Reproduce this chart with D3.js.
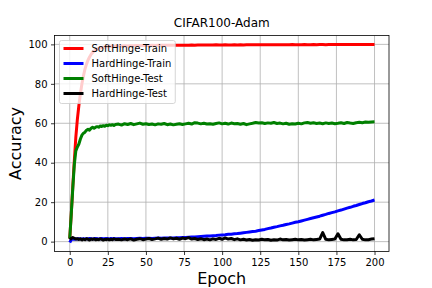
<!DOCTYPE html>
<html>
<head>
<meta charset="utf-8">
<script src="https://cdn.jsdelivr.net/npm/d3@7"></script>
<style>
  body { margin: 0; background: #fff; }
  text { font-family: "DejaVu Sans", sans-serif; }
</style>
</head>
<body>
<svg id="chart" width="432" height="288"></svg>
<script>
// epochs (dense at the start, every 2 after 30)
const epochs = [
  0, 1, 2, 3, 4, 5, 6, 7, 8, 9, 10, 11, 12, 13, 14, 15, 16, 17, 18, 19, 20,
  21, 22, 23, 24, 25, 26, 27, 28, 29, 30,
  32, 34, 36, 38, 40, 42, 44, 46, 48, 50, 52, 54, 56, 58, 60, 62, 64, 66, 68, 70,
  72, 74, 76, 78, 80, 82, 84, 86, 88, 90, 92, 94, 96, 98, 100, 102, 104, 106, 108, 110,
  112, 114, 116, 118, 120, 122, 124, 126, 128, 130, 132, 134, 136, 138, 140, 142, 144, 146, 148, 150,
  152, 154, 156, 158, 160, 162, 164, 166, 168, 170, 172, 174, 176, 178, 180, 182, 184, 186, 188, 190,
  192, 194, 196, 198, 200
];

const softTrain = [
  1.5, 14, 28, 41, 53, 62, 69, 75, 80, 84, 87.5, 90, 92, 93.6, 94.9, 95.9, 96.6, 97.2, 97.6, 97.9, 98.2,
  98.4, 98.6, 98.7, 98.8, 98.9, 99.0, 99.0, 99.1, 99.1, 99.2,
  99.2, 99.2, 99.3, 99.2, 99.3, 99.3, 99.4, 99.3, 99.4, 99.4, 99.4, 99.5, 99.4, 99.5, 99.5, 99.5, 99.5, 99.6, 99.5, 99.6,
  99.6, 99.6, 99.6, 99.6, 99.7, 99.6, 99.7, 99.7, 99.7, 99.7, 99.7, 99.7, 99.8, 99.7, 99.7, 99.8, 99.7, 99.7, 99.8, 99.7,
  99.8, 99.7, 99.8, 99.8, 99.8, 99.8, 99.8, 99.8, 99.8, 99.8, 99.8, 99.8, 99.8, 99.8, 99.8, 99.8, 99.8, 99.9, 99.8, 99.8,
  99.8, 99.9, 99.8, 99.8, 99.9, 99.8, 99.9, 99.9, 99.8, 99.9, 99.9, 99.9, 99.9, 99.9, 99.9, 99.9, 99.9, 99.9, 99.9, 99.9,
  99.9, 99.9, 99.9, 99.9, 99.9
];

const hardTrain = [
  -0.4, 1.0, 1.3, 1.2, 1.4, 1.3, 1.5, 1.4, 1.3, 1.5, 1.4, 1.5, 1.4, 1.6, 1.5, 1.4, 1.5, 1.6, 1.5, 1.4, 1.5,
  1.6, 1.5, 1.5, 1.6, 1.5, 1.4, 1.6, 1.5, 1.6, 1.5,
  1.5, 1.6, 1.5, 1.6, 1.6, 1.5, 1.6, 1.7, 1.6, 1.7, 1.7, 1.6, 1.7, 1.8, 1.7, 1.8, 1.8, 1.9, 1.9, 2.0,
  2.0, 2.1, 2.1, 2.2, 2.3, 2.4, 2.5, 2.6, 2.7, 2.8, 2.9, 3.0, 3.1, 3.3, 3.4, 3.5, 3.7, 3.8, 4.0, 4.1,
  4.3, 4.5, 4.7, 4.9, 5.1, 5.3, 5.6, 5.9, 6.2, 6.6, 6.9, 7.3, 7.6, 8.0, 8.3, 8.7, 9.0, 9.4, 9.8, 10.1,
  10.5, 10.9, 11.3, 11.7, 12.1, 12.5, 12.9, 13.4, 13.8, 14.3, 14.7, 15.1, 15.6, 16.0, 16.5, 17.0, 17.4, 17.9, 18.3, 18.8,
  19.3, 19.7, 20.2, 20.6, 21.1
];

const softTest = [
  1.5, 14, 27, 39, 46, 48, 49.5, 52, 54, 55, 55.5, 56.5, 57, 56.5, 57.5, 58, 57.5, 58, 58.3, 58, 58.6,
  58.4, 58.8, 58.5, 59, 58.8, 59.2, 59, 59.3, 58.9, 59.4,
  59.6, 59.1, 59.8, 59.4, 59.9, 59.3, 59.7, 60.1, 59.5, 59.8, 59.4, 59.6, 59.2, 59.7, 59.5, 59.9, 59.3, 59.6, 59.2, 59.5,
  59.8, 59.4, 59.7, 60.0, 59.6, 60.3, 60.1, 59.7, 60.0, 59.6, 59.8, 59.5, 59.9, 60.2, 59.7, 60.0, 59.6, 60.1, 59.8, 59.9,
  59.5, 59.9, 59.3, 59.7, 60.0, 60.4, 60.1, 60.3, 59.9, 60.2, 60.0, 60.4, 59.9, 60.1, 59.7, 60.0, 59.5, 59.8, 59.6, 60.0,
  59.7, 60.2, 60.4, 60.0, 60.3, 59.9, 60.1, 59.8, 60.2, 59.9, 60.1, 59.8, 60.0, 60.3, 59.9, 60.4, 60.1, 59.9, 60.3, 60.5,
  60.3, 60.6, 60.5, 60.7, 60.8
];

const hardTest = [
  1.0, 1.6, 2.1, 1.7, 1.3, 1.5, 1.1, 1.4, 0.9, 1.3, 1.0, 1.5, 1.2, 0.8, 1.3, 1.1, 1.4, 0.9, 1.2, 1.0, 1.4,
  1.1, 0.8, 1.2, 1.0, 1.3, 0.9, 1.2, 1.0, 1.4, 1.1,
  1.2, 0.9, 1.3, 1.0, 1.4, 0.8, 1.2, 1.5, 1.0, 1.3, 1.6, 1.1, 1.4, 1.8, 1.2, 1.6, 1.3, 1.9, 1.4, 1.7,
  1.2, 1.8, 1.5, 2.0, 1.3, 1.6, 1.1, 1.5, 1.0, 1.3, 0.9, 1.4, 1.1, 1.7, 1.2, 1.9, 1.3, 1.6, 1.0, 1.4,
  0.9, 1.2, 0.8, 1.1, 0.7, 1.0, 0.8, 1.2, 0.9, 1.1, 0.7, 1.0, 0.8, 1.3, 0.9, 1.1, 0.8, 1.0, 1.2, 0.9,
  1.1, 0.8, 1.0, 1.2, 0.9, 1.1, 1.3, 4.6, 1.2, 0.9, 1.1, 1.3, 4.0, 1.2, 0.9, 1.0, 1.2, 0.9, 1.1, 3.5,
  1.2, 0.9, 1.0, 1.3, 1.5
];

const seriesNames = ['SoftHinge-Train', 'HardHinge-Train', 'SoftHinge-Test', 'HardHinge-Test'];
const seriesColors = ['#ff0000', '#0000ff', '#008000', '#000000'];
const xTicks = [0, 25, 50, 75, 100, 125, 150, 175, 200];
const yTicks = [0, 20, 40, 60, 80, 100];

const margin = { left: 54.5, right: 389, top: 35.5, bottom: 251.5 };
const svg = d3.select('#chart');

const x = d3.scaleLinear().domain([-10, 209.5]).range([margin.left, margin.right]);
const y = d3.scaleLinear().domain([-5, 104.5]).range([margin.bottom, margin.top]);

// grid
const grid = svg.append('g');
grid.selectAll('.gx').data(xTicks).enter().append('line')
    .attr('x1', (d) => x(d)).attr('x2', (d) => x(d))
    .attr('y1', margin.top).attr('y2', margin.bottom)
    .attr('stroke', '#b0b0b0').attr('stroke-width', 0.8);
grid.selectAll('.gy').data(yTicks).enter().append('line')
    .attr('y1', (d) => y(d)).attr('y2', (d) => y(d))
    .attr('x1', margin.left).attr('x2', margin.right)
    .attr('stroke', '#b0b0b0').attr('stroke-width', 0.8);

// lines
const allSeries = [softTrain, hardTrain, softTest, hardTest];
const line = d3.line()
    .x((d, i) => x(epochs[i]))
    .y((d) => y(d));

const clip = svg.append('clipPath').attr('id', 'plot-clip')
    .append('rect')
    .attr('x', margin.left).attr('y', margin.top)
    .attr('width', margin.right - margin.left)
    .attr('height', margin.bottom - margin.top);

allSeries.forEach((s, k) => {
    svg.append('path')
        .datum(s)
        .attr('clip-path', 'url(#plot-clip)')
        .attr('fill', 'none')
        .attr('stroke', seriesColors[k])
        .attr('stroke-width', 3)
        .attr('stroke-linejoin', 'round')
        .attr('d', line);
});

// axes
const xAxis = svg.append('g')
    .attr('transform', `translate(0, ${margin.bottom})`)
    .call(d3.axisBottom(x).tickValues(xTicks).tickSize(3.5).tickPadding(3.5).tickSizeOuter(0));
const yAxis = svg.append('g')
    .attr('transform', `translate(${margin.left}, 0)`)
    .call(d3.axisLeft(y).tickValues(yTicks).tickSize(3.5).tickPadding(3.5).tickSizeOuter(0));

[xAxis, yAxis].forEach((a) => {
    a.select('.domain').remove();
    a.selectAll('line').attr('stroke', '#000').attr('stroke-width', 0.8);
    a.selectAll('text')
        .attr('fill', '#000')
        .style('font-size', '10px')
        .style('font-family', '"DejaVu Sans", sans-serif');
});

// frame
svg.append('rect')
    .attr('x', margin.left).attr('y', margin.top)
    .attr('width', margin.right - margin.left)
    .attr('height', margin.bottom - margin.top)
    .attr('fill', 'none')
    .attr('stroke', '#000')
    .attr('stroke-width', 0.8);

// legend
const legend = svg.append('g');
const legendBox = legend.append('rect')
    .attr('x', 59.5).attr('y', 40.5)
    .attr('rx', 2).attr('ry', 2)
    .attr('fill', '#fff').attr('fill-opacity', 0.8)
    .attr('stroke', '#cccccc').attr('stroke-width', 0.8);

let maxW = 0;
seriesNames.forEach((name, k) => {
    const cy = 48.5 + k * 15;
    legend.append('line')
        .attr('x1', 63.5).attr('x2', 83.5)
        .attr('y1', cy).attr('y2', cy)
        .attr('stroke', seriesColors[k])
        .attr('stroke-width', 3);
    const t = legend.append('text')
        .attr('x', 91.5).attr('y', cy)
        .attr('dy', '0.35em')
        .style('font-size', '10px')
        .text(name);
    maxW = Math.max(maxW, t.node().getComputedTextLength());
});
legendBox.attr('width', 91.5 + maxW + 4 - 59.5).attr('height', 63);

// titles
svg.append('text')
    .attr('x', (margin.left + margin.right) / 2)
    .attr('y', 27)
    .attr('text-anchor', 'middle')
    .style('font-size', '12px')
    .text('CIFAR100-Adam');

svg.append('text')
    .attr('x', (margin.left + margin.right) / 2)
    .attr('y', 284)
    .attr('text-anchor', 'middle')
    .style('font-size', '16px')
    .text('Epoch');

svg.append('text')
    .attr('transform', `translate(21, ${(margin.top + margin.bottom) / 2}) rotate(-90)`)
    .attr('text-anchor', 'middle')
    .style('font-size', '16px')
    .text('Accuracy');
</script>
</body>
</html>
